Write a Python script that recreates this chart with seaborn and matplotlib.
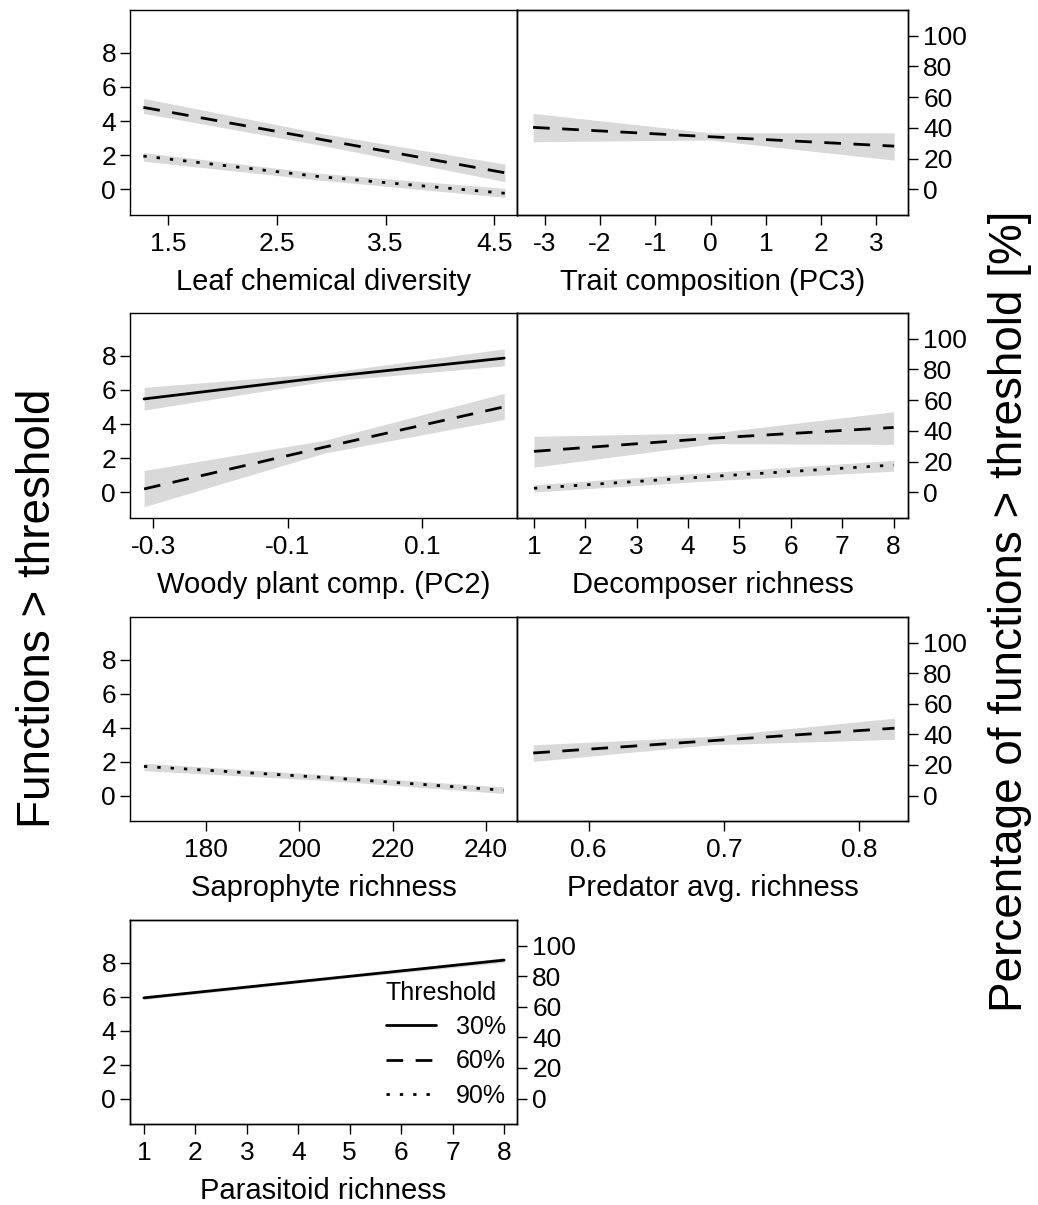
import numpy as np
import pandas as pd
import matplotlib
matplotlib.use("Agg")
import matplotlib.pyplot as plt
import seaborn as sns
from matplotlib.lines import Line2D

# ---------------- data ----------------
thresholds = ["30%", "60%", "90%"]
n_functions = 9

# Leaf chemical diversity
leaf_x = [1.27, 2.90, 4.60]
leaf_60 = [4.80, 2.93, 0.97]
leaf_60_lo = [4.45, 2.59, 0.45]
leaf_60_hi = [5.33, 3.28, 1.48]
leaf_90 = [1.95, 0.74, -0.23]
leaf_90_lo = [1.65, 0.54, -0.47]
leaf_90_hi = [2.15, 0.94, 0.06]
leaf_ticks = [1.5, 2.5, 3.5, 4.5]
leaf_ticklabels = ["1.5", "2.5", "3.5", "4.5"]

# Trait composition (PC3)
trait_x = [-3.21, 0.0, 3.32]
trait_60 = [3.63, 3.08, 2.53]
trait_60_lo = [2.79, 2.89, 1.71]
trait_60_hi = [4.45, 3.31, 3.31]
trait_ticks = [-3, -2, -1, 0, 1, 2, 3]
trait_ticklabels = ["-3", "-2", "-1", "0", "1", "2", "3"]

# Woody plant comp. (PC2)
woody_x = [-0.314, -0.045, 0.223]
woody_30 = [5.47, 6.74, 7.86]
woody_30_lo = [4.82, 6.49, 7.41]
woody_30_hi = [6.15, 6.98, 8.40]
woody_60 = [0.20, 2.65, 5.01]
woody_60_lo = [-0.84, 2.30, 4.27]
woody_60_hi = [1.28, 3.05, 5.80]
woody_ticks = [-0.3, -0.1, 0.1]
woody_ticklabels = ["-0.3", "-0.1", "0.1"]

# Decomposer richness
decomp_x = [1.0, 4.5, 8.0]
decomp_60 = [2.40, 3.18, 3.80]
decomp_60_lo = [1.47, 2.85, 2.81]
decomp_60_hi = [3.28, 3.48, 4.72]
decomp_90 = [0.24, 0.94, 1.60]
decomp_90_lo = [0.02, 0.69, 1.24]
decomp_90_hi = [0.45, 1.18, 1.87]
decomp_ticks = [1, 2, 3, 4, 5, 6, 7, 8]
decomp_ticklabels = ["1", "2", "3", "4", "5", "6", "7", "8"]

# Saprophyte richness
sapro_x = [166.7, 205.0, 243.8]
sapro_90 = [1.71, 1.07, 0.31]
sapro_90_lo = [1.46, 0.90, 0.12]
sapro_90_hi = [1.90, 1.23, 0.50]
sapro_ticks = [180, 200, 220, 240]
sapro_ticklabels = ["180", "200", "220", "240"]

# Predator avg. richness
pred_x = [0.559, 0.690, 0.826]
pred_60 = [2.50, 3.22, 3.96]
pred_60_lo = [2.00, 2.98, 3.30]
pred_60_hi = [2.98, 3.47, 4.55]
pred_ticks = [0.6, 0.7, 0.8]
pred_ticklabels = ["0.6", "0.7", "0.8"]

# Parasitoid richness
para_x = [1.0, 4.5, 8.0]
para_30 = [5.92, 7.03, 8.14]
para_30_lo = [5.82, 6.95, 8.00]
para_30_hi = [6.02, 7.11, 8.28]
para_ticks = [1, 2, 3, 4, 5, 6, 7, 8]
para_ticklabels = ["1", "2", "3", "4", "5", "6", "7", "8"]

left_ticks = [0, 2, 4, 6, 8]
right_ticks = [0, 20, 40, 60, 80, 100]

# ---------------- style ----------------
sns.set_theme(style="ticks")
plt.rcParams["font.family"] = ["Liberation Sans", "DejaVu Sans"]
plt.rcParams["axes.edgecolor"] = "black"
plt.rcParams["axes.linewidth"] = 1.0
plt.rcParams["text.color"] = "black"
plt.rcParams["axes.labelcolor"] = "black"
plt.rcParams["xtick.color"] = "black"
plt.rcParams["ytick.color"] = "black"

DASHES = {"30%": "", "60%": (6, 4.5), "90%": (1.2, 3.6)}
LW = 2.0
BAND = "#d9d9d9"
TICK_FS = 19
LABEL_FS = 21
YLIM = (-1.5, 10.5)

W, H = 1038, 1205
fig = plt.figure(figsize=(W / 100, H / 100), dpi=100)


def px_axes(x0, y0, x1, y1):
    return [x0 / W, 1 - y1 / H, (x1 - x0) / W, (y1 - y0) / H]


panels = [
    dict(box=(130, 10, 517, 215), side="left", x=leaf_x, xlim=(1.147, 4.71),
         series={"60%": (leaf_60, leaf_60_lo, leaf_60_hi), "90%": (leaf_90, leaf_90_lo, leaf_90_hi)},
         ticks=leaf_ticks, ticklabels=leaf_ticklabels, label="Leaf chemical diversity"),
    dict(box=(517, 10, 908, 215), side="right", x=trait_x, xlim=(-3.5, 3.57),
         series={"60%": (trait_60, trait_60_lo, trait_60_hi)},
         ticks=trait_ticks, ticklabels=trait_ticklabels, label="Trait composition (PC3)"),
    dict(box=(130, 313, 517, 518), side="left", x=woody_x, xlim=(-0.335, 0.242),
         series={"30%": (woody_30, woody_30_lo, woody_30_hi), "60%": (woody_60, woody_60_lo, woody_60_hi)},
         ticks=woody_ticks, ticklabels=woody_ticklabels, label="Woody plant comp. (PC2)"),
    dict(box=(517, 313, 908, 518), side="right", x=decomp_x, xlim=(0.67, 8.28),
         series={"60%": (decomp_60, decomp_60_lo, decomp_60_hi), "90%": (decomp_90, decomp_90_lo, decomp_90_hi)},
         ticks=decomp_ticks, ticklabels=decomp_ticklabels, label="Decomposer richness"),
    dict(box=(130, 617, 517, 821), side="left", x=sapro_x, xlim=(163.7, 246.7),
         series={"90%": (sapro_90, sapro_90_lo, sapro_90_hi)},
         ticks=sapro_ticks, ticklabels=sapro_ticklabels, label="Saprophyte richness"),
    dict(box=(517, 617, 908, 821), side="right", x=pred_x, xlim=(0.547, 0.836),
         series={"60%": (pred_60, pred_60_lo, pred_60_hi)},
         ticks=pred_ticks, ticklabels=pred_ticklabels, label="Predator avg. richness"),
    dict(box=(130, 920, 517, 1124), side="both", x=para_x, xlim=(0.73, 8.25),
         series={"30%": (para_30, para_30_lo, para_30_hi)},
         ticks=para_ticks, ticklabels=para_ticklabels, label="Parasitoid richness"),
]

for p in panels:
    ax = fig.add_axes(px_axes(*p["box"]))
    frames = []
    for thr, (y, lo, hi) in p["series"].items():
        ax.fill_between(p["x"], lo, hi, color=BAND, lw=0, zorder=1)
        frames.append(pd.DataFrame({"x": p["x"], "y": y, "threshold": thr}))
    df = pd.concat(frames, ignore_index=True)
    sns.lineplot(data=df, x="x", y="y", style="threshold", dashes=DASHES,
                 color="black", linewidth=LW, estimator=None, legend=False,
                 ax=ax, zorder=3)
    ax.set_xlim(*p["xlim"])
    ax.set_ylim(*YLIM)
    ax.set_xticks(p["ticks"])
    ax.set_xticklabels(p["ticklabels"])
    ax.set_xlabel(p["label"], fontsize=LABEL_FS, labelpad=9)
    ax.set_ylabel("")
    for s in ax.spines.values():
        s.set_visible(True)
        s.set_color("black")
        s.set_linewidth(1.0)
    ax.tick_params(axis="x", direction="out", length=7, width=1, colors="black",
                   labelsize=TICK_FS, pad=5)
    if p["side"] in ("left", "both"):
        ax.set_yticks(left_ticks)
        ax.set_yticklabels([str(t) for t in left_ticks])
        ax.tick_params(axis="y", direction="out", length=7, width=1, colors="black",
                       labelsize=TICK_FS, pad=3)
    else:
        ax.set_yticks([])
    if p["side"] in ("right", "both"):
        ax2 = ax.twinx()
        ax2.set_ylim(YLIM[0] * 100 / n_functions, YLIM[1] * 100 / n_functions)
        ax2.set_yticks(right_ticks)
        ax2.set_yticklabels([str(t) for t in right_ticks])
        ax2.tick_params(axis="y", direction="out", length=7, width=1, colors="black",
                        labelsize=TICK_FS, pad=4)
        for s in ax2.spines.values():
            s.set_color("black")
    if p["side"] == "both":
        handles = [Line2D([], [], color="black", lw=LW,
                          linestyle=(0, DASHES[t]) if DASHES[t] else "-")
                   for t in thresholds]
        leg = ax.legend(handles, thresholds, title="Threshold", loc="lower right",
                        bbox_to_anchor=(1 - 11 / 387, 16 / 204), frameon=False,
                        fontsize=18, title_fontsize=18, handlelength=2.0,
                        handletextpad=0.8, labelspacing=0.42, alignment="left",
                        borderaxespad=0, borderpad=0)

fig.text(38 / W, 1 - 608 / H, "Functions > threshold", rotation=90,
         ha="center", va="center", fontsize=33)
fig.text(1010 / W, 1 - 611 / H, "Percentage of functions > threshold [%]", rotation=90,
         ha="center", va="center", fontsize=33)

fig.savefig("out.png", dpi=100, facecolor="white")
